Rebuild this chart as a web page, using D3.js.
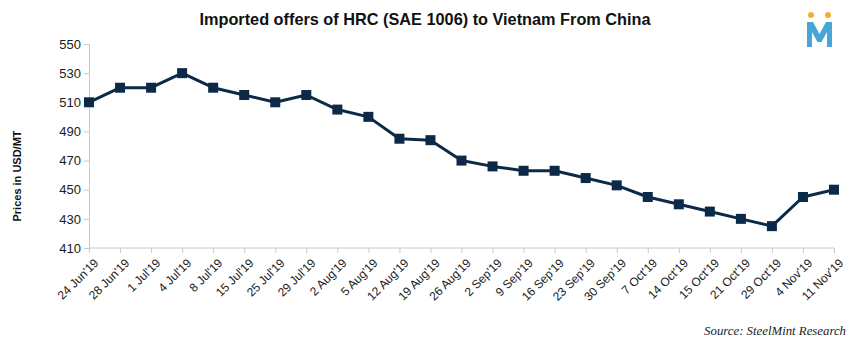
<!DOCTYPE html>
<html>
<head>
<meta charset="utf-8">
<script src="https://cdn.jsdelivr.net/npm/d3@7"></script>
<style>
  body { margin: 0; background: #fff; }
  text { font-family: "Liberation Sans", Arial, sans-serif; }
</style>
</head>
<body>
<div id="chart"></div>
<script>
// Data
const dates = ["24 Jun'19", "28 Jun'19", "1 Jul'19", "4 Jul'19", "8 Jul'19", "15 Jul'19",
  "25 Jul'19", "29 Jul'19", "2 Aug'19", "5 Aug'19", "12 Aug'19", "19 Aug'19", "26 Aug'19",
  "2 Sep'19", "9 Sep'19", "16 Sep'19", "23 Sep'19", "30 Sep'19", "7 Oct'19", "14 Oct'19",
  "15 Oct'19", "21 Oct'19", "29 Oct'19", "4 Nov'19", "11 Nov'19"];
const prices = [510, 520, 520, 530, 520, 515, 510, 515, 505, 500, 485, 484, 470,
  466, 463, 463, 458, 453, 445, 440, 435, 430, 425, 445, 450];
const yTicks = [410, 430, 450, 470, 490, 510, 530, 550];

const width = 852, height = 351;
const margin = { top: 44, right: 18, bottom: 103, left: 89 };
const w = width - margin.left - margin.right;
const h = height - margin.top - margin.bottom;

const svg = d3.select('#chart')
  .append('svg')
  .attr('width', width)
  .attr('height', height);

const g = svg.append('g')
  .attr('transform', `translate(${margin.left},${margin.top})`);

const x = d3.scalePoint()
  .domain(dates)
  .range([0, w]);

const y = d3.scaleLinear()
  .domain([410, 550])
  .range([h, 0]);

// y axis
const yAxis = g.append('g')
  .call(d3.axisLeft(y).tickValues(yTicks).tickSize(5).tickPadding(3));
yAxis.select('.domain').attr('stroke', '#c8c8c8');
yAxis.selectAll('.tick line').attr('stroke', '#c8c8c8');
yAxis.selectAll('.tick text')
  .attr('fill', '#1a1a1a')
  .style('font-size', '13px')
  .style('font-family', '"Liberation Sans", Arial, sans-serif');

// x axis
const xAxis = g.append('g')
  .attr('transform', `translate(0,${h})`)
  .call(d3.axisBottom(x).tickSize(5).tickSizeOuter(0));
xAxis.select('.domain').attr('stroke', '#c8c8c8')
  .attr('d', `M0,0H${w}`);
xAxis.selectAll('.tick line').attr('stroke', '#c8c8c8');
xAxis.selectAll('.tick text')
  .attr('fill', '#1a1a1a')
  .style('font-size', '12px')
  .style('font-family', '"Liberation Sans", Arial, sans-serif')
  .attr('text-anchor', 'end')
  .attr('dy', null)
  .attr('transform', 'translate(4,10) rotate(-45)');

// line
const line = d3.line()
  .x(d => x(d.date))
  .y(d => y(d.price));

const points = dates.map((d, i) => ({ date: d, price: prices[i] }));

g.append('path')
  .datum(points)
  .attr('fill', 'none')
  .attr('stroke', '#0c2a48')
  .attr('stroke-width', 3)
  .attr('stroke-linejoin', 'round')
  .attr('d', line);

g.selectAll('.marker')
  .data(points)
  .enter()
  .append('rect')
  .attr('class', 'marker')
  .attr('x', d => x(d.date) - 5)
  .attr('y', d => y(d.price) - 5)
  .attr('width', 10)
  .attr('height', 10)
  .attr('fill', '#0c2a48');

// title
svg.append('text')
  .attr('x', 425)
  .attr('y', 25)
  .attr('text-anchor', 'middle')
  .style('font-size', '16.3px')
  .style('font-weight', 'bold')
  .attr('fill', '#111')
  .text('Imported offers of HRC (SAE 1006) to Vietnam From China');

// y label
svg.append('text')
  .attr('transform', 'translate(21,176) rotate(-90)')
  .attr('text-anchor', 'middle')
  .style('font-size', '11px')
  .style('font-weight', 'bold')
  .attr('fill', '#111')
  .text('Prices in USD/MT');

// source
svg.append('text')
  .attr('x', 846)
  .attr('y', 335)
  .attr('text-anchor', 'end')
  .style('font-family', '"Liberation Serif", "Times New Roman", serif')
  .style('font-style', 'italic')
  .style('font-size', '12.8px')
  .attr('fill', '#222')
  .text('Source: SteelMint Research');

// logo
const logo = svg.append('g').attr('transform', 'translate(807,12)');
logo.append('circle').attr('cx', 4).attr('cy', 3).attr('r', 3).attr('fill', '#f5ad32');
logo.append('circle').attr('cx', 21).attr('cy', 3).attr('r', 3).attr('fill', '#f5ad32');
logo.append('path')
  .attr('d', 'M0,10 L6,10 L12.5,22 L19,10 L25,10 L25,35 L20,35 L20,20 L14.5,30 L10.5,30 L5,20 L5,35 L0,35 Z')
  .attr('fill', '#46a6d6');
</script>
</body>
</html>
